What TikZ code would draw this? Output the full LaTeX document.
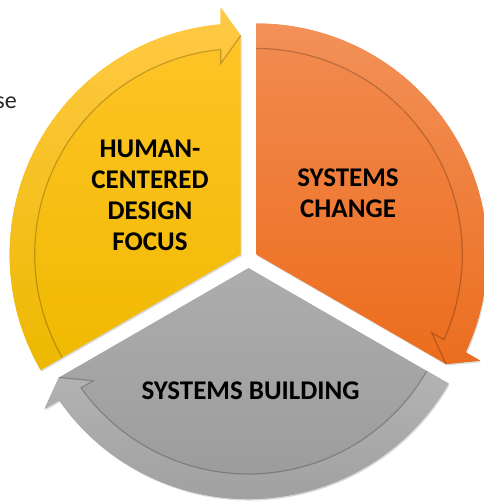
\documentclass[tikz,border=0pt]{standalone}
\usepackage{fontspec}
\setmainfont{Carlito}
\usetikzlibrary{shadows}
\definecolor{hcdtop}{HTML}{FFC52A}
\definecolor{hcdbot}{HTML}{F0B900}
\definecolor{hcdbandtop}{HTML}{FFCA45}
\definecolor{hcdbandbot}{HTML}{EDB800}
\definecolor{chgtop}{HTML}{F28C52}
\definecolor{chgbot}{HTML}{EC6C1C}
\definecolor{chgbandtop}{HTML}{F39159}
\definecolor{chgbandbot}{HTML}{EB6E1F}
\definecolor{bldtop}{HTML}{ADADAD}
\definecolor{bldbot}{HTML}{989898}
\definecolor{bldbandtop}{HTML}{B3B3B3}
\definecolor{bldbandbot}{HTML}{9C9C9C}

\begin{document}
\begin{tikzpicture}[x=1pt,y=1pt,
    segment/.style={drop shadow={opacity=.3,shadow xshift=1pt,shadow yshift=-1.5pt}},
    band edge/.style={draw=black,draw opacity=.22,line width=1.2pt},
    caption/.style={font=\fontsize{27}{31}\selectfont\bfseries,align=center,text=black}]
    \useasboundingbox (-248.5,-243) rectangle (234.5,259);
    % three exploded segments, arrow head at the clockwise end
    \foreach \b/\name in {90/hcd,-30/chg,210/bld} {
      \coordinate (\name-c) at (\b+60:9);
      \coordinate (\name-tip) at ([shift={(\name-c)}]\b:219);
      \coordinate (\name-ob) at ([shift={(\name-c)}]\b+4.63:247.8);
      \coordinate (\name-ib) at ([shift={(\name-c)}]\b+5.98:192);
      \path[segment,top color=\name top,bottom color=\name bot]
        (\name-c) -- ([shift={(\name-c)}]\b+120:231)
        arc[start angle=\b+120,end angle=\b+4.97,radius=231]
        -- (\name-ob) -- (\name-tip) -- cycle;
      \path[top color=\name bandtop,bottom color=\name bandbot]
        ([shift={(\name-c)}]\b+120:231)
        arc[start angle=\b+120,end angle=\b+4.97,radius=231]
        -- (\name-ob) -- (\name-tip) -- (\name-ib)
        -- ([shift={(\name-c)}]\b+5.57:206)
        arc[start angle=\b+5.57,end angle=\b+120,radius=206] -- cycle;
      \path[band edge] ([shift={(\name-c)}]\b+120:206)
        arc[start angle=\b+120,end angle=\b+5.57,radius=206]
        -- (\name-ib) -- (\name-tip);
    }
    \node[caption] (hcd-text) at (-98.5,64) {HUMAN-\\CENTERED\\DESIGN\\FOCUS};
    \node[caption] (chg-text) at (99.5,66) {SYSTEMS\\CHANGE};
    \node[caption] (bld-text) at (2,-132) {SYSTEMS BUILDING};
    \node[font=\fontsize{24}{29}\selectfont,text=black!85,anchor=base east,inner sep=0pt] (side-text) at (-231.5,150) {se};
\end{tikzpicture}
\end{document}
